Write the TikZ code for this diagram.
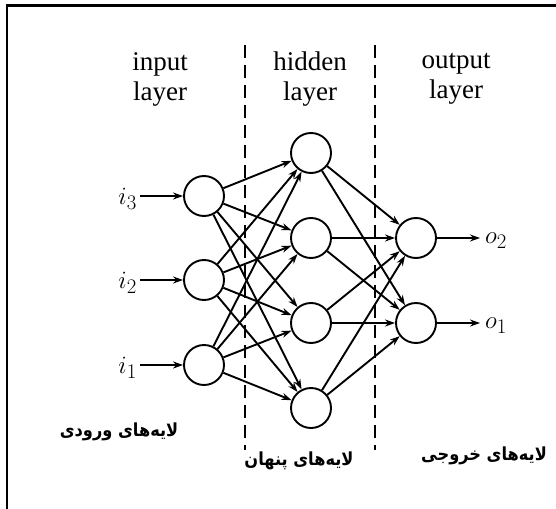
\documentclass[tikz,border=0pt]{standalone}
\usepackage{fontspec}
\setmainfont{Liberation Serif}
\newfontfamily\arabicfont[Script=Arabic,FakeStretch=0.9]{DejaVu Sans}
\TeXXeTstate=1
\usetikzlibrary{arrows.meta}
\begin{document}
\begin{tikzpicture}[x=1pt,y=-1pt,
  neuron/.style={circle,draw,line width=1.9pt,minimum size=40pt,inner sep=0pt},
  conn/.style={line width=1.9pt,-{Stealth[length=10pt,width=7pt]}},
  head/.style={font=\fontsize{27}{30}\selectfont,align=center},
  mlab/.style={font=\fontsize{29}{30}\selectfont,inner sep=0pt},
  plab/.style={font=\arabicfont\bfseries\fontsize{18}{20}\selectfont},
  sep/.style={line width=1.3pt,dash pattern=on 13pt off 7pt}]
\useasboundingbox (0,0) rectangle (556,508);
\draw[line width=2.5pt] (7,620) -- (7,5.5) -- (600,5.5);
% separators
\draw[sep] (245,45) -- (245,450);
\draw[sep] (375,45) -- (375,450);
% headings
\node[head] (hin) at (160,79) {input\\layer};
\node[head] (hhid) at (310,79) {hidden\\layer};
\node[head] (hout) at (456,79) {output\\layer};
% neurons
\node[neuron] (i3) at (204,196) {};
\node[neuron] (i2) at (204,280) {};
\node[neuron] (i1) at (204,365) {};
\node[neuron] (h1) at (311,153) {};
\node[neuron] (h2) at (311,238) {};
\node[neuron] (h3) at (311,323) {};
\node[neuron] (h4) at (311,408) {};
\node[neuron] (o2) at (416,238) {};
\node[neuron] (o1) at (416,323) {};
% labels
\node[mlab,anchor=east] (li3) at (137,199) {$i_3$};
\node[mlab,anchor=east] (li2) at (137,283) {$i_2$};
\node[mlab,anchor=east] (li1) at (137,368) {$i_1$};
\node[mlab,anchor=west] (lo2) at (485,241) {$o_2$};
\node[mlab,anchor=west] (lo1) at (485,326) {$o_1$};
\draw[conn] ([xshift=3pt]li3.east |- i3) -- (i3);
\draw[conn] ([xshift=3pt]li2.east |- i2) -- (i2);
\draw[conn] ([xshift=3pt]li1.east |- i1) -- (i1);
\draw[conn] (o2) -- ([xshift=-5pt]lo2.west |- o2);
\draw[conn] (o1) -- ([xshift=-5pt]lo1.west |- o1);
\foreach \a in {i1,i2,i3}{\foreach \b in {h1,h2,h3,h4}{\draw[conn] (\a) -- (\b);}}
\foreach \a in {h1,h2,h3,h4}{\foreach \b in {o1,o2}{\draw[conn] (\a) -- (\b);}}
% persian labels
\node[plab] (p1) at (119,432) {\beginR لایه‌های ورودی\endR};
\node[plab] (p2) at (299,461) {\beginR لایه‌های پنهان\endR};
\node[plab] (p3) at (484,456) {\beginR لایه‌های خروجی\endR};
\end{tikzpicture}
\end{document}
